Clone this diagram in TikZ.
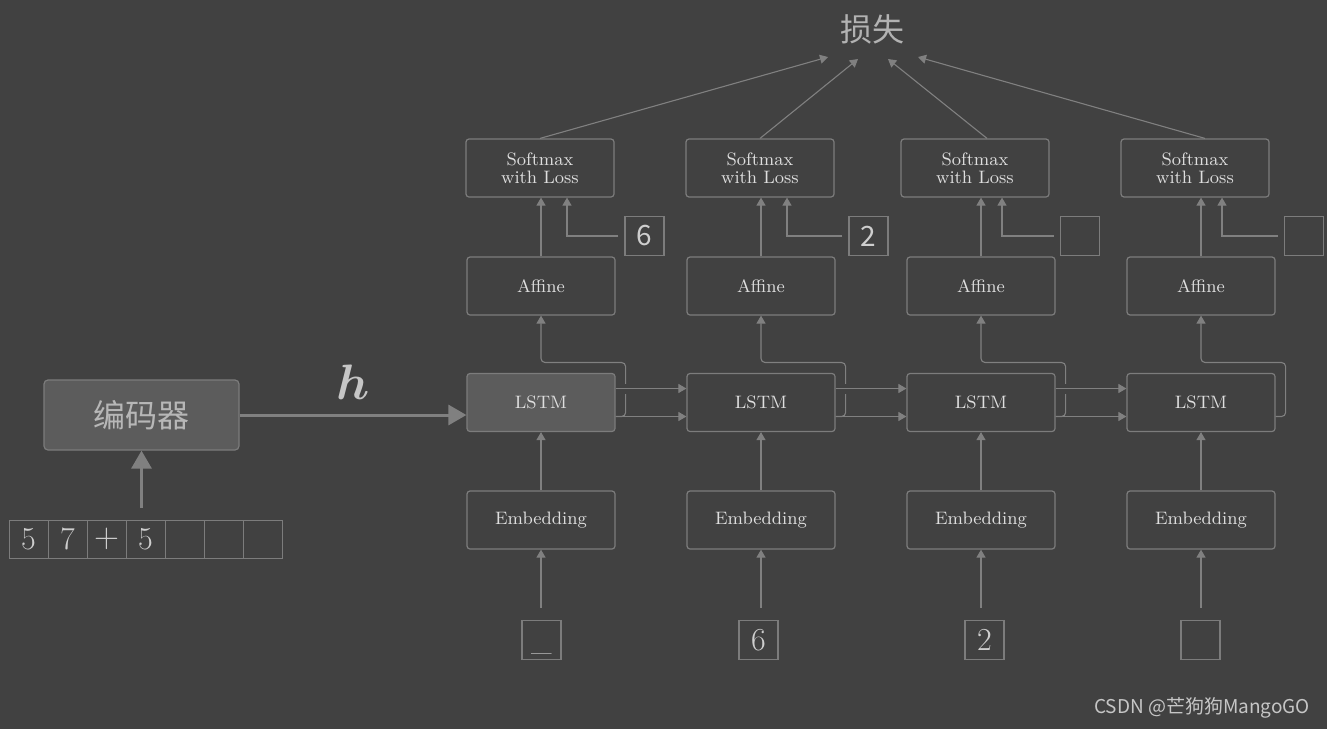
\documentclass[tikz,border=0pt]{standalone}
\usepackage{fontspec}
\newfontfamily\cjk{Noto Sans CJK SC}
\usepackage{amsmath,amssymb}
\usepackage{tikz}
\usetikzlibrary{calc,arrows.meta}
\usepackage{color}
\definecolor{bgc}{RGB}{65,65,65}
\definecolor{linec}{RGB}{128,128,128}
\definecolor{boxc}{RGB}{124,124,124}
\definecolor{txtc}{RGB}{222,222,222}
\definecolor{encc}{RGB}{92,92,92}
\definecolor{losc}{RGB}{178,178,178}

\begin{document}
\begin{tikzpicture}[x=0.5pt,y=-0.5pt,
    blk/.style={draw=boxc, line width=0.6pt, rounded corners=1.5pt, minimum width=74pt, minimum height=29pt, inner sep=0pt, text=txtc, font=\fontsize{9}{9}\selectfont, align=center},
    sq/.style={draw=boxc, line width=0.6pt, minimum width=19.5pt, minimum height=19.5pt, inner sep=0pt, text=txtc!90!bgc},
    cell/.style={draw=boxc, line width=0.5pt, minimum width=19.5pt, minimum height=19pt, inner sep=0pt, text=txtc!90!bgc, font=\fontsize{16}{16}\selectfont},
    arr/.style={draw=linec, line width=0.55pt, -{Triangle[length=4pt,width=4.5pt]}},
    fat/.style={draw=linec, line width=1.5pt, -{Triangle[length=9pt,width=10pt]}},
    hop/.style={preaction={draw=bgc, line width=5pt, arrows=-, shorten <=2pt, shorten >=3pt}}]

  \fill[bgc] (0,0) rectangle (1327,729);
  \useasboundingbox (0,0) rectangle (1327,729);

  % encoder and its input
  \node (enc) at (141.5,415) [draw=boxc, line width=0.6pt, fill=encc, rounded corners=2pt, minimum width=97.5pt, minimum height=35pt, text=txtc!75!bgc, font=\cjk\fontsize{16}{16}\selectfont] {编码器};
  \node (cell1) at (28.5,539) [cell] {5};
  \node (cell2) at (67.5,539) [cell] {7};
  \node (cell3) at (106.5,539) [cell] {$+$};
  \node (cell4) at (145.5,539) [cell] {5};
  \node (cell5) at (184.5,539) [cell] {};
  \node (cell6) at (223.5,539) [cell] {};
  \node (cell7) at (262.5,539) [cell] {};
  \node (hlab) at (353,382) [text=txtc!85!bgc, font=\fontsize{24.88}{30}\selectfont] {$\boldsymbol{h}$};

  % loss
  \node (loss) at (872.5,29) [text=losc, font=\cjk\fontsize{16}{16}\selectfont] {损失};

  % column 1
  \node (sm1) at (540,168) [blk] {Softmax\\with Loss};
  \node (aff1) at (541,286) [blk] {Affine};
  \node (lstm1) at (541,402.5) [blk, fill=encc] {LSTM};
  \node (emb1) at (541,520) [blk] {Embedding};
  \node (in1) at (541.5,640) [sq, text height=12pt, text depth=2pt, font=\fontsize{14}{14}\selectfont] {\_};
  \node (ans1) at (644.5,236) [sq, font=\cjk\fontsize{14}{14}\selectfont] {6};

  % column 2
  \node (sm2) at (760,168) [blk] {Softmax\\with Loss};
  \node (aff2) at (761,286) [blk] {Affine};
  \node (lstm2) at (761,402.5) [blk] {LSTM};
  \node (emb2) at (761,520) [blk] {Embedding};
  \node (in2) at (758.5,640) [sq, font=\fontsize{16}{16}\selectfont] {6};
  \node (ans2) at (868.5,236) [sq, font=\cjk\fontsize{14}{14}\selectfont] {2};

  % column 3
  \node (sm3) at (975,168) [blk] {Softmax\\with Loss};
  \node (aff3) at (981,286) [blk] {Affine};
  \node (lstm3) at (981,402.5) [blk] {LSTM};
  \node (emb3) at (981,520) [blk] {Embedding};
  \node (in3) at (984.5,640) [sq, font=\fontsize{16}{16}\selectfont] {2};
  \node (ans3) at (1080,236) [sq] {};

  % column 4
  \node (sm4) at (1195,168) [blk] {Softmax\\with Loss};
  \node (aff4) at (1201,286) [blk] {Affine};
  \node (lstm4) at (1201,402.5) [blk] {LSTM};
  \node (emb4) at (1201,520) [blk] {Embedding};
  \node (in4) at (1200.5,640) [sq] {};
  \node (ans4) at (1304,236) [sq] {};

  \node (mark) at (1202,708) [text=txtc!85!bgc, font=\cjk\fontsize{9.5}{10}\selectfont] {CSDN @芒狗狗MangoGO};

  % encoder to decoder
  \draw[fat] (enc.east) -- (enc.east -| lstm1.west);
  \draw[fat, shorten <=6pt] (cell4.north -| enc.south) -- (enc.south);

  % inputs up to the LSTMs
  \draw[arr, shorten <=6pt] (emb1.south |- in1.north) -- (emb1.south);
  \draw[arr, shorten <=6pt] (emb2.south |- in2.north) -- (emb2.south);
  \draw[arr, shorten <=6pt] (emb3.south |- in3.north) -- (emb3.south);
  \draw[arr, shorten <=6pt] (emb4.south |- in4.north) -- (emb4.south);
  \draw[arr] (emb1.north) -- (lstm1.south);
  \draw[arr] (emb2.north) -- (lstm2.south);
  \draw[arr] (emb3.north) -- (lstm3.south);
  \draw[arr] (emb4.north) -- (lstm4.south);

  % LSTM outputs to Affine
  \draw[arr, rounded corners=2pt] ([yshift=-7pt]lstm1.east) -| ++(10,-54) -| (aff1.south);
  \draw[arr, rounded corners=2pt] ([yshift=-7pt]lstm2.east) -| ++(10,-54) -| (aff2.south);
  \draw[arr, rounded corners=2pt] ([yshift=-7pt]lstm3.east) -| ++(10,-54) -| (aff3.south);
  \draw[arr, rounded corners=2pt] ([yshift=-7pt]lstm4.east) -| ++(10,-54) -| (aff4.south);

  % hidden and cell state
  \draw[arr] ([yshift=-7pt]lstm1.east) -- ([yshift=-7pt]lstm2.west);
  \draw[arr] ([yshift=-7pt]lstm2.east) -- ([yshift=-7pt]lstm3.west);
  \draw[arr] ([yshift=-7pt]lstm3.east) -- ([yshift=-7pt]lstm4.west);
  \draw[arr, hop] ([yshift=7pt]lstm1.east) -- ([yshift=7pt]lstm2.west);
  \draw[arr, hop] ([yshift=7pt]lstm2.east) -- ([yshift=7pt]lstm3.west);
  \draw[arr, hop] ([yshift=7pt]lstm3.east) -- ([yshift=7pt]lstm4.west);

  % Affine to Softmax, with the answers
  \draw[arr] (aff1.north) -- (aff1.north |- sm1.south);
  \draw[arr] (aff2.north) -- (aff2.north |- sm2.south);
  \draw[arr] (aff3.north) -- (aff3.north |- sm3.south);
  \draw[arr] (aff4.north) -- (aff4.north |- sm4.south);
  \draw[arr, shorten <=3pt] (ans1.west) -| ([xshift=13.5pt]sm1.south);
  \draw[arr, shorten <=3pt] (ans2.west) -| ([xshift=13.5pt]sm2.south);
  \draw[arr, shorten <=3pt] (ans3.west) -| ([xshift=13.5pt]sm3.south);
  \draw[arr, shorten <=3pt] (ans4.west) -| ([xshift=13.5pt]sm4.south);

  % Softmax to loss
  \draw[arr] (sm1.north) -- ($(loss)+(-44.5,28)$);
  \draw[arr] (sm2.north) -- ($(loss)+(-14.5,30)$);
  \draw[arr] ([xshift=6pt]sm3.north) -- ($(loss)+(15.5,30)$);
  \draw[arr] ([xshift=5pt]sm4.north) -- ($(loss)+(45.5,28)$);
\end{tikzpicture}
\end{document}
